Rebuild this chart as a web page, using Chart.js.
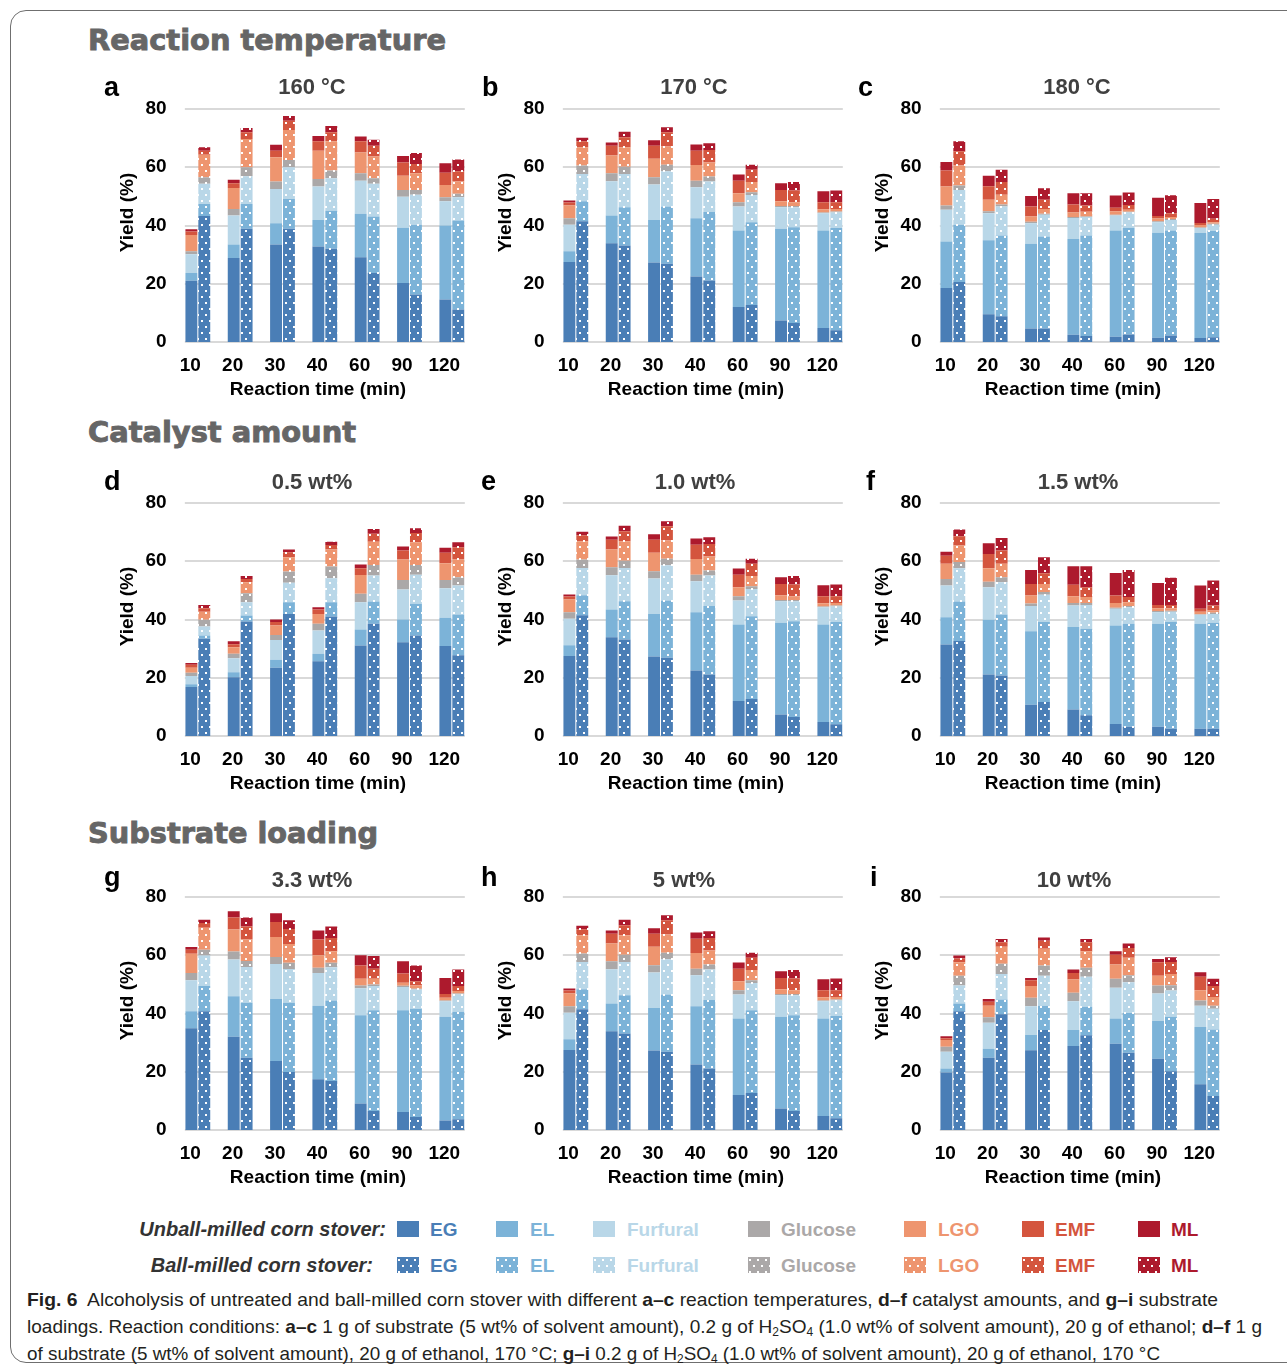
<!DOCTYPE html>
<html>
<head>
<meta charset="utf-8">
<script src="https://cdn.jsdelivr.net/npm/chart.js@4.4.1/dist/chart.umd.min.js"></script>
<style>
  html, body { margin: 0; padding: 0; background: #fff; }
  body { width: 1287px; height: 1370px; position: relative; overflow: hidden;
         font-family: "Liberation Sans", Arial, sans-serif; }
  .frame { position: absolute; left: 10px; top: 10px; width: 1310px; height: 1353px;
           border: 1px solid #6f6f6f; border-radius: 16px; box-sizing: border-box; }
  .section { position: absolute; left: 88px; font-family: "DejaVu Sans", sans-serif; font-weight: bold;
             font-size: 28px; line-height: 28px; color: #666; white-space: nowrap; transform-origin: 0 50%;
             -webkit-text-stroke: 0.9px #666; }
  .letter { position: absolute; font-weight: bold; font-size: 27px; line-height: 27px; color: #000; }
  .ptitle { position: absolute; font-weight: bold; font-size: 22px; line-height: 22px; color: #404040;
            white-space: nowrap; transform: translate(-50%, -50%); }
  canvas.panel { position: absolute; }
  .lgLabel { position: absolute; font-weight: bold; font-style: italic; font-size: 20px; line-height: 20px;
             color: #333; white-space: nowrap; text-align: right; transform: translateY(-50%); }
  .lgText { position: absolute; font-weight: bold; font-size: 19px; line-height: 19px; white-space: nowrap;
            transform: translateY(-50%); }
  canvas.swatch { position: absolute; }
  .cap { position: absolute; left: 27px; font-size: 19px; line-height: 19px; color: #231f20;
         white-space: nowrap; transform-origin: 0 50%; }
  .cap sub { font-size: 12px; line-height: 0; vertical-align: -3px; }
</style>
</head>
<body>
<div class="frame"></div>

<div class="section" id="sec1" style="top:27px">Reaction temperature</div>
<div class="section" id="sec2" style="top:419px">Catalyst amount</div>
<div class="section" id="sec3" style="top:820px">Substrate loading</div>

<div id="panels"></div>
<div id="legend"></div>

<div class="cap" id="cap1" style="top:1290px"><b>Fig. 6</b>&nbsp; Alcoholysis of untreated and ball-milled corn stover with different <b>a–c</b> reaction temperatures, <b>d–f</b> catalyst amounts, and <b>g–i</b> substrate</div>
<div class="cap" id="cap2" style="top:1317px">loadings. Reaction conditions: <b>a–c</b> 1 g of substrate (5 wt% of solvent amount), 0.2 g of H<sub>2</sub>SO<sub>4</sub> (1.0 wt% of solvent amount), 20 g of ethanol; <b>d–f</b> 1 g</div>
<div class="cap" id="cap3" style="top:1344px">of substrate (5 wt% of solvent amount), 20 g of ethanol, 170 °C; <b>g–i</b> 0.2 g of H<sub>2</sub>SO<sub>4</sub> (1.0 wt% of solvent amount), 20 g of ethanol, 170 °C</div>

<script>
// ---------------------------------------------------------------------------
// Data: product yields (%) per reaction time. Each matrix has one row per
// product (order of productNames) and one column per reaction time.
// ---------------------------------------------------------------------------
const timeLabels = ['10', '20', '30', '40', '60', '90', '120'];
const productNames = ['EG', 'EL', 'Furfural', 'Glucose', 'LGO', 'EMF', 'ML'];
const yTicks = [0, 20, 40, 60, 80];

// a: 160 °C
const temp160Unmilled = [
  [21.0, 28.8, 33.5, 32.8, 29.1, 20.3, 14.6],
  [2.7, 4.7, 7.3, 9.1, 14.9, 18.9, 25.4],
  [6.4, 9.9, 11.7, 11.5, 11.4, 10.7, 8.3],
  [1.1, 2.3, 2.6, 2.6, 2.5, 2.3, 1.4],
  [5.5, 7.2, 8.3, 9.7, 7.2, 4.9, 4.2],
  [1.2, 1.6, 2.3, 3.2, 3.8, 4.5, 4.2],
  [0.8, 1.2, 2.0, 1.8, 1.7, 2.3, 3.3]
];
const temp160Milled = [
  [43.3, 38.9, 38.9, 32.0, 23.7, 16.3, 11.2],
  [4.1, 8.5, 10.2, 13.1, 19.4, 24.0, 30.5],
  [6.9, 9.5, 10.9, 11.1, 11.2, 10.3, 8.0],
  [2.3, 3.1, 2.5, 2.7, 1.9, 1.6, 1.2],
  [7.7, 9.7, 10.3, 10.0, 7.5, 5.7, 4.2],
  [1.4, 2.3, 3.2, 3.1, 3.7, 3.2, 3.5],
  [1.2, 1.5, 1.6, 2.2, 2.0, 3.8, 4.1]
];

// b, e, h: standard run (170 °C, 1.0 wt% H2SO4, 5 wt% substrate)
const standardUnmilled = [
  [27.5, 33.9, 27.3, 22.5, 12.0, 7.4, 4.8],
  [3.7, 9.5, 14.6, 20.0, 26.3, 31.5, 33.5],
  [9.1, 11.8, 12.2, 10.6, 8.2, 7.4, 5.9],
  [2.2, 2.7, 2.5, 2.3, 1.5, 0.4, 0.3],
  [4.4, 6.1, 6.3, 5.4, 3.1, 1.6, 1.1],
  [1.0, 3.4, 4.5, 4.9, 4.3, 3.9, 2.4],
  [0.7, 1.1, 1.9, 2.1, 2.1, 2.3, 3.8]
];
const standardMilled = [
  [41.5, 33.1, 26.9, 21.1, 12.7, 6.5, 4.0],
  [6.8, 13.2, 19.6, 23.5, 28.4, 32.9, 35.1],
  [9.4, 11.4, 12.1, 10.5, 9.4, 6.9, 5.4],
  [2.9, 2.5, 2.3, 1.7, 0.9, 0.4, 0.3],
  [6.3, 6.7, 6.2, 4.8, 3.5, 1.3, 0.9],
  [2.0, 3.4, 4.9, 4.3, 4.2, 4.0, 2.3],
  [1.2, 1.9, 1.7, 2.3, 1.8, 2.9, 4.0]
];

// c: 180 °C
const temp180Unmilled = [
  [18.5, 9.5, 4.6, 2.5, 1.8, 1.5, 1.4],
  [16.0, 25.4, 29.1, 32.9, 36.5, 36.0, 36.0],
  [10.9, 9.3, 7.1, 7.2, 5.1, 3.6, 1.7],
  [1.5, 0.7, 0.5, 0.3, 0.3, 0.4, 0.2],
  [6.5, 3.9, 1.8, 1.6, 1.2, 0.9, 0.9],
  [5.5, 4.7, 3.4, 2.7, 1.2, 0.9, 0.7],
  [2.9, 3.6, 3.6, 3.9, 4.2, 6.2, 6.8]
];
const temp180Milled = [
  [20.6, 8.8, 4.6, 2.1, 2.6, 2.2, 1.6],
  [19.7, 27.8, 31.6, 34.5, 36.6, 36.1, 36.5],
  [11.9, 9.9, 7.5, 6.3, 5.3, 3.6, 2.2],
  [1.5, 0.7, 0.3, 0.2, 0.2, 0.3, 0.3],
  [6.9, 3.4, 1.7, 1.6, 0.7, 0.7, 0.5],
  [4.9, 4.3, 3.1, 2.2, 1.6, 1.3, 1.2],
  [3.4, 4.2, 4.0, 4.2, 4.3, 6.2, 6.8]
];

// d: 0.5 wt% catalyst
const cat05Unmilled = [
  [16.8, 20.2, 23.4, 25.7, 31.1, 32.2, 30.9],
  [1.0, 1.7, 2.8, 2.5, 5.5, 7.8, 9.7],
  [2.8, 4.8, 6.8, 8.0, 9.3, 10.3, 10.1],
  [1.1, 1.5, 1.7, 2.3, 2.9, 3.3, 2.9],
  [1.7, 2.3, 3.2, 3.4, 6.5, 7.0, 5.7],
  [1.1, 1.0, 1.2, 1.5, 2.3, 3.1, 3.6],
  [0.6, 1.0, 0.9, 0.8, 1.3, 1.4, 1.7]
];
const cat05Milled = [
  [33.4, 39.3, 41.9, 41.0, 38.5, 34.5, 27.7],
  [1.1, 2.1, 4.0, 4.9, 7.7, 10.9, 14.0],
  [3.1, 4.5, 6.7, 8.3, 8.9, 10.0, 10.0],
  [2.3, 3.1, 3.9, 4.0, 3.6, 3.3, 2.8],
  [2.8, 3.8, 4.9, 5.8, 8.0, 7.8, 6.1],
  [1.2, 1.1, 1.7, 1.6, 2.7, 3.2, 4.2],
  [1.1, 1.0, 0.9, 1.1, 1.7, 1.6, 1.7]
];

// f: 1.5 wt% catalyst
const cat15Unmilled = [
  [31.4, 21.1, 10.7, 9.1, 4.1, 3.2, 2.5],
  [9.4, 18.8, 25.3, 28.3, 33.8, 35.3, 36.0],
  [10.9, 11.2, 8.6, 7.4, 5.8, 4.0, 3.1],
  [2.2, 1.9, 0.9, 0.9, 0.3, 0.4, 0.2],
  [5.2, 4.6, 2.7, 2.3, 1.7, 1.0, 0.9],
  [2.8, 4.9, 4.0, 3.9, 2.5, 1.1, 1.0],
  [1.4, 3.7, 4.8, 6.4, 7.8, 7.5, 8.0]
];
const cat15Milled = [
  [32.6, 20.8, 11.7, 7.1, 3.2, 2.5, 2.5],
  [13.6, 20.9, 27.4, 29.7, 35.3, 36.6, 36.4],
  [11.4, 11.1, 9.4, 8.2, 5.7, 3.6, 3.0],
  [2.1, 1.7, 0.9, 0.7, 0.4, 0.3, 0.4],
  [5.7, 4.6, 2.8, 2.0, 1.3, 0.9, 0.8],
  [3.2, 4.6, 3.7, 3.4, 1.8, 1.1, 1.7],
  [2.3, 4.3, 5.5, 7.2, 9.3, 9.3, 8.6]
];

// g: 3.3 wt% substrate
const load33Unmilled = [
  [34.9, 32.0, 23.7, 17.4, 9.1, 6.2, 3.3],
  [5.9, 13.9, 21.3, 25.3, 30.3, 34.9, 35.6],
  [10.6, 12.6, 12.0, 11.2, 9.3, 8.0, 5.3],
  [2.5, 2.8, 2.4, 1.8, 0.9, 0.4, 0.3],
  [6.6, 7.5, 6.9, 4.3, 2.3, 1.1, 0.9],
  [1.4, 4.2, 5.1, 5.4, 4.6, 3.1, 1.3],
  [0.9, 2.1, 3.0, 3.1, 3.5, 4.2, 5.5]
];
const load33Milled = [
  [40.8, 24.8, 19.9, 16.8, 6.5, 4.5, 3.7],
  [8.6, 18.9, 23.8, 27.7, 34.6, 37.1, 36.9],
  [10.5, 12.3, 11.6, 11.4, 8.3, 6.6, 5.9],
  [2.0, 2.0, 2.1, 1.5, 0.6, 0.3, 0.4],
  [7.5, 7.4, 6.5, 4.0, 1.9, 1.1, 0.8],
  [1.7, 4.5, 5.1, 4.5, 3.5, 1.5, 1.7],
  [1.1, 3.1, 3.0, 4.0, 4.3, 5.4, 5.7]
];

// i: 10 wt% substrate
const load10Unmilled = [
  [19.7, 24.8, 27.4, 28.8, 29.6, 24.5, 15.7],
  [1.4, 3.1, 5.2, 5.5, 8.7, 12.9, 19.7],
  [5.8, 8.9, 9.9, 9.9, 10.5, 9.5, 7.3],
  [1.7, 1.9, 2.9, 2.9, 3.1, 2.7, 1.8],
  [2.3, 4.0, 4.0, 4.6, 4.9, 3.4, 3.5],
  [0.6, 1.3, 2.0, 2.2, 3.4, 4.6, 4.6],
  [0.7, 1.0, 0.8, 1.2, 1.2, 1.1, 1.6]
];
const load10Milled = [
  [40.8, 39.7, 34.3, 32.5, 26.5, 20.2, 11.7],
  [2.6, 5.1, 8.4, 9.8, 13.7, 18.7, 22.8],
  [6.2, 8.8, 10.3, 10.3, 10.5, 9.0, 7.1],
  [3.4, 3.5, 3.5, 3.1, 2.4, 1.8, 1.1],
  [4.6, 5.8, 5.7, 5.7, 6.0, 3.9, 3.0],
  [1.3, 1.6, 2.8, 3.1, 3.4, 4.1, 3.7],
  [1.0, 1.1, 1.1, 1.1, 1.5, 1.6, 2.5]
];

// ---------------------------------------------------------------------------
// Styling and layout
// ---------------------------------------------------------------------------
const productColors = ['#4a7eb6', '#7cb3d8', '#b9d7e8', '#aba8a8', '#ee956f', '#d4553e', '#ad1a2d'];
const FONT = '"Liberation Sans", Arial, sans-serif';

const panels = [
  { letter: 'a', title: '160 °C',  unmilled: temp160Unmilled,  milled: temp160Milled,  col: 0, row: 0, titleX: 312,  letterX: 104 },
  { letter: 'b', title: '170 °C',  unmilled: standardUnmilled, milled: standardMilled, col: 1, row: 0, titleX: 694,  letterX: 482 },
  { letter: 'c', title: '180 °C',  unmilled: temp180Unmilled,  milled: temp180Milled,  col: 2, row: 0, titleX: 1077, letterX: 858 },
  { letter: 'd', title: '0.5 wt%', unmilled: cat05Unmilled,    milled: cat05Milled,    col: 0, row: 1, titleX: 312,  letterX: 104 },
  { letter: 'e', title: '1.0 wt%', unmilled: standardUnmilled, milled: standardMilled, col: 1, row: 1, titleX: 695,  letterX: 481 },
  { letter: 'f', title: '1.5 wt%', unmilled: cat15Unmilled,    milled: cat15Milled,    col: 2, row: 1, titleX: 1078, letterX: 866 },
  { letter: 'g', title: '3.3 wt%', unmilled: load33Unmilled,   milled: load33Milled,   col: 0, row: 2, titleX: 312,  letterX: 104 },
  { letter: 'h', title: '5 wt%',   unmilled: standardUnmilled, milled: standardMilled, col: 1, row: 2, titleX: 684,  letterX: 481 },
  { letter: 'i', title: '10 wt%',  unmilled: load10Unmilled,   milled: load10Milled,   col: 2, row: 2, titleX: 1074, letterX: 870 }
];
const rowTitleY = [87, 482, 880];
const rowLetterBase = [97, 491, 887];

// panel geometry
const GRID_X0 = 185, COL_STEP = 377.5, GRID_W = 282;
const GRID_Y80 = 108.5, ROW_STEP = 394.3, PLOT_H = 233;
const PAIR_W = 26;
const CAT_W = (GRID_W - PAIR_W) / 6;
const EDGE = (CAT_W - PAIR_W) / 2;            // plot area extends past gridlines
const LEFT_W = 85, PAD_TOP = 25, X_AXIS_H = 70, CANVAS_W = 380;
const CAT_PCT = PAIR_W / CAT_W;
const BAR_PCT = 12 / 13;

// white dot pattern used for the ball-milled bars
function dotPattern(color) {
  const c = document.createElement('canvas');
  c.width = 8; c.height = 12;
  const g = c.getContext('2d');
  g.fillStyle = color; g.fillRect(0, 0, 8, 12);
  g.fillStyle = '#ffffff';
  g.fillRect(1, 2, 2, 2);
  g.fillRect(5, 8, 2, 2);
  return g.createPattern(c, 'repeat');
}
const productPatterns = productColors.map(dotPattern);

// gridlines (only as wide as the bar groups) and axis titles
const panelDecor = {
  id: 'panelDecor',
  beforeDatasetsDraw(chart) {
    const { ctx, scales: { x, y } } = chart;
    const x0 = x.getPixelForValue(0) - PAIR_W / 2;
    const x1 = x.getPixelForValue(timeLabels.length - 1) + PAIR_W / 2;
    ctx.save();
    ctx.strokeStyle = '#d9d9d9';
    ctx.lineWidth = 2;
    yTicks.forEach(v => {
      const py = Math.round(y.getPixelForValue(v));
      ctx.beginPath(); ctx.moveTo(x0, py); ctx.lineTo(x1, py); ctx.stroke();
    });
    ctx.restore();
  },
  afterDraw(chart) {
    const { ctx, chartArea } = chart;
    ctx.save();
    ctx.fillStyle = '#000';
    ctx.font = 'bold 19px ' + FONT;
    ctx.textAlign = 'center';
    ctx.textBaseline = 'middle';
    ctx.fillText('Reaction time (min)', chartArea.left + EDGE + 133, chartArea.bottom + 47.5);
    ctx.translate(chartArea.left + EDGE - 57, chartArea.top + 103.5);
    ctx.rotate(-Math.PI / 2);
    ctx.fillText('Yield (%)', 0, 0);
    ctx.restore();
  }
};

const host = document.getElementById('panels');
panels.forEach(p => {
  const gridX0 = GRID_X0 + COL_STEP * p.col;
  const y80 = GRID_Y80 + ROW_STEP * p.row;

  const canvas = document.createElement('canvas');
  canvas.className = 'panel';
  canvas.width = CANVAS_W;
  canvas.height = PAD_TOP + PLOT_H + X_AXIS_H;
  canvas.style.left = (gridX0 - LEFT_W) + 'px';
  canvas.style.top = (y80 - PAD_TOP) + 'px';
  host.appendChild(canvas);

  const letter = document.createElement('div');
  letter.className = 'letter';
  letter.textContent = p.letter;
  letter.style.left = p.letterX + 'px';
  letter.style.top = (rowLetterBase[p.row] - 23) + 'px';
  host.appendChild(letter);

  const title = document.createElement('div');
  title.className = 'ptitle';
  title.textContent = p.title;
  title.style.left = p.titleX + 'px';
  title.style.top = rowTitleY[p.row] + 'px';
  host.appendChild(title);

  const datasets = [];
  productNames.forEach((name, k) => {
    datasets.push({ label: name + ' (unball-milled)', data: p.unmilled[k], stack: 'unmilled',
                    backgroundColor: productColors[k], borderWidth: 0 });
    datasets.push({ label: name + ' (ball-milled)', data: p.milled[k], stack: 'milled',
                    backgroundColor: productPatterns[k], borderWidth: 0 });
  });

  const plotRight = LEFT_W - EDGE + GRID_W + 2 * EDGE;
  new Chart(canvas, {
    type: 'bar',
    data: { labels: timeLabels, datasets },
    plugins: [panelDecor],
    options: {
      responsive: false,
      animation: false,
      devicePixelRatio: 1,
      layout: { padding: { left: 0, top: PAD_TOP, right: CANVAS_W - plotRight, bottom: 0 } },
      plugins: { legend: { display: false }, tooltip: { enabled: false }, title: { display: false } },
      datasets: { bar: { categoryPercentage: CAT_PCT, barPercentage: BAR_PCT } },
      scales: {
        x: {
          stacked: true, offset: true,
          grid: { display: false, drawTicks: false }, border: { display: false },
          ticks: { color: '#000', font: { family: FONT, size: 19, weight: 'bold' },
                   padding: 12, labelOffset: -7.5, maxRotation: 0, autoSkip: false },
          afterFit: s => { s.height = X_AXIS_H; }
        },
        y: {
          stacked: true, min: 0, max: 80,
          grid: { display: false, drawTicks: false }, border: { display: false },
          afterBuildTicks: s => { s.ticks = yTicks.map(v => ({ value: v })); },
          ticks: { color: '#000', font: { family: FONT, size: 19, weight: 'bold' }, padding: 10 },
          afterFit: s => { s.width = LEFT_W - EDGE; }
        }
      }
    }
  });
});

// ---------------------------------------------------------------------------
// Legend
// ---------------------------------------------------------------------------
const legend = document.getElementById('legend');
const legendRows = [
  { label: 'Unball-milled corn stover:', right: 386, y: 1229, milled: false },
  { label: 'Ball-milled corn stover:',   right: 373, y: 1265, milled: true }
];
const legendSwatchX = [397, 496, 593, 748, 904, 1022, 1138];
const legendTextX = [430, 530, 627, 781, 938, 1055, 1171];
legendRows.forEach(r => {
  const lab = document.createElement('div');
  lab.className = 'lgLabel';
  lab.textContent = r.label;
  lab.style.right = (1287 - r.right) + 'px';
  lab.style.top = r.y + 'px';
  legend.appendChild(lab);
  productNames.forEach((name, k) => {
    const sw = document.createElement('canvas');
    sw.className = 'swatch';
    sw.width = 22; sw.height = 16;
    sw.style.left = legendSwatchX[k] + 'px';
    sw.style.top = (r.y - 8) + 'px';
    const g = sw.getContext('2d');
    g.fillStyle = r.milled ? productPatterns[k] : productColors[k];
    g.fillRect(0, 0, 22, 16);
    legend.appendChild(sw);
    const t = document.createElement('div');
    t.className = 'lgText';
    t.textContent = name;
    t.style.left = legendTextX[k] + 'px';
    t.style.top = r.y + 'px';
    t.style.color = productColors[k];
    legend.appendChild(t);
  });
});

// fit headings and caption lines to their widths
function fitWidth(id, target) {
  const el = document.getElementById(id);
  const w = el.getBoundingClientRect().width;
  el.style.transform = 'scaleX(' + (target / w) + ')';
}
fitWidth('sec1', 358);
fitWidth('sec2', 268);
fitWidth('sec3', 290);
fitWidth('cap1', 1191);
fitWidth('cap2', 1235);
fitWidth('cap3', 1133);
</script>
</body>
</html>
